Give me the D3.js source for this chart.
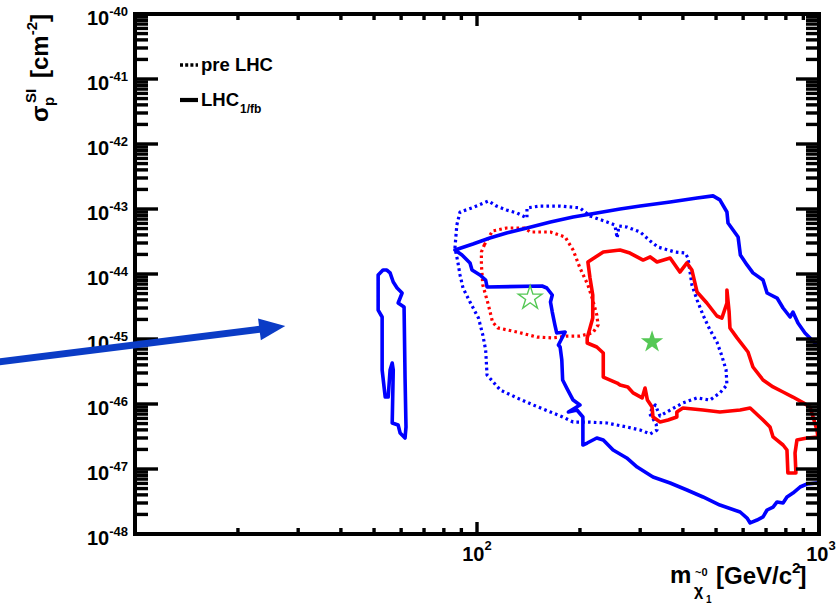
<!DOCTYPE html>
<html>
<head>
<meta charset="utf-8">
<script src="https://cdn.jsdelivr.net/npm/d3@7"></script>
<style>
  body { margin: 0; background: #fff; }
  svg { display: block; }
  text { font-family: "Liberation Sans", Arial, Helvetica, sans-serif; font-weight: bold; fill: #000; }
</style>
</head>
<body>
<svg id="chart" width="840" height="604"></svg>
<script>
// ---- axis definitions ----
const massDomain = [10, 1000];          // GeV/c^2
const sigmaDomain = [1e-48, 1e-40];     // cm^2
const xMajorTicks = [10, 100, 1000];
const xMinorTicks = [20, 30, 40, 50, 60, 70, 80, 90, 200, 300, 400, 500, 600, 700, 800, 900];
const xTickLabels = [[100, "10", "2"], [1000, "10", "3"]];
const yDecadeExponents = [-40, -41, -42, -43, -44, -45, -46, -47, -48];
const yMinorMultipliers = [2, 3, 4, 5, 6, 7, 8, 9];

// ---- contours: [neutralino mass (GeV/c^2), sigma_p^SI (cm^2)] ----
const lhcBlueMain = [
  [86.2,2.34e-44],[97.3,2.89e-44],[109,3.58e-44],[122,4.27e-44],[140,5.10e-44],[164,6.31e-44],
  [191,7.53e-44],[224,8.68e-44],[262,1.00e-43],[300,1.11e-43],[367,1.28e-43],[440,1.48e-43],
  [490,1.59e-43],[513,1.38e-43],[538,8.99e-44],[542,6.09e-44],[580,3.71e-44],[589,1.96e-44],
  [616,1.38e-44],[641,1.04e-44],[686,8.08e-45],[705,5.10e-45],[754,4.27e-45],[785,3.00e-45],
  [823,2.18e-45],[839,2.60e-45],[868,1.76e-45],[910,1.24e-45],[973,8.68e-46],[1000,7.80e-46],
  [1000,6.09e-48],[986,6.09e-48],[923,5.88e-48],[880,5.28e-48],[839,4.27e-48],[806,3.71e-48],
  [785,3.00e-48],[754,3.11e-48],[734,2.60e-48],[705,2.34e-48],[686,1.83e-48],[659,1.64e-48],
  [629,1.48e-48],[616,1.76e-48],[588,2.18e-48],[513,2.79e-48],[458,3.71e-48],[411,4.75e-48],
  [367,6.09e-48],[327,7.53e-48],[294,1.07e-47],[274,1.48e-47],[250,1.96e-47],[234,2.79e-47],
  [224,3.00e-47],[210,2.51e-47],[204,2.34e-47],[204,6.31e-47],[196,8.08e-47],[185,7.53e-47],
  [200,9.65e-47],[191,1.15e-46],[183,1.76e-46],[178,2.34e-46],[177,4.75e-46],[175,7.53e-46],
  [173,8.08e-46],[181,1.28e-45],[171,1.24e-45],[169,1.64e-45],[166,2.60e-45],[164,3.71e-45],
  [166,4.75e-45],[160,6.09e-45],[155,6.54e-45],[107,6.31e-45],[106,8.08e-45],[102,9.65e-45],
  [96.7,1.15e-44],[95.4,1.48e-44],[90.4,1.96e-44]
];
const lhcBlueIsland = [
  [53.1,1.15e-44],[51.4,9.65e-45],[51.4,2.79e-45],[52.8,2.18e-45],[52.8,3.33e-46],[53.9,1.28e-46],
  [55.0,1.28e-46],[55.7,3.33e-46],[56.5,4.27e-46],[56.9,3.33e-46],[56.5,5.10e-47],[58.8,4.75e-47],
  [59.6,3.58e-47],[61.6,3.00e-47],[62.0,4.43e-47],[61.6,2.60e-46],[61.2,3.11e-45],[58.8,3.58e-45],
  [59.6,4.27e-45],[60.4,5.10e-45],[58.4,6.09e-45],[56.9,7.53e-45],[55.7,1.04e-44],[54.5,1.15e-44]
];
const preLhcBlue = [
  [87.3,5.67e-44],[89.2,8.99e-44],[96.7,1.04e-43],[108,1.33e-43],[114,1.11e-43],[122,9.65e-44],
  [131,8.68e-44],[140,7.27e-44],[140,1.04e-43],[153,1.11e-43],[175,1.11e-43],[200,1.04e-43],
  [214,7.80e-44],[240,6.31e-44],[253,5.67e-44],[257,3.58e-44],[260,5.48e-44],[274,5.28e-44],
  [300,4.43e-44],[321,3.22e-44],[338,2.60e-44],[379,2.18e-44],[406,2.10e-44],[414,1.76e-44],
  [425,6.77e-45],[440,3.98e-45],[458,2.34e-45],[480,1.38e-45],[503,8.99e-46],[520,5.48e-46],
  [535,3.33e-46],[538,1.96e-46],[513,1.48e-46],[480,1.15e-46],[440,1.24e-46],[400,1.04e-46],
  [367,8.08e-47],[343,6.54e-47],[332,9.65e-47],[319,7.27e-47],[334,4.92e-47],[336,3.98e-47],
  [321,3.46e-47],[300,3.98e-47],[274,4.43e-47],[240,5.10e-47],[210,5.28e-47],[191,5.28e-47],
  [178,6.31e-47],[164,7.53e-47],[146,9.65e-47],[131,1.24e-46],[117,1.64e-46],[107,2.79e-46],
  [106,6.77e-46],[104,1.15e-45],[101,2.10e-45],[95.4,3.71e-45],[91.0,6.09e-45],[89.2,9.65e-45],
  [87.9,1.53e-44],[86.2,2.51e-44]
];
const preLhcRed = [
  [105,2.79e-44],[111,4.59e-44],[122,5.10e-44],[138,5.10e-44],[143,4.43e-44],[164,4.43e-44],
  [181,3.71e-44],[191,2.34e-44],[200,1.24e-44],[211,6.77e-45],[218,3.98e-45],[224,2.34e-45],
  [226,1.64e-45],[218,1.24e-45],[200,1.11e-45],[183,1.11e-45],[167,1.04e-45],[150,1.07e-45],
  [131,1.28e-45],[115,1.48e-45],[111,1.83e-45],[108,3.33e-45],[104,6.77e-45],[103,1.38e-44],
  [103,2.18e-44]
];
const lhcRed = [
  [211,1.53e-44],[234,2.18e-44],[262,2.34e-44],[280,2.10e-44],[306,1.64e-44],[321,1.83e-44],
  [336,1.53e-44],[367,1.76e-44],[392,1.07e-44],[411,1.48e-44],[425,1.15e-44],[440,5.28e-45],
  [470,3.58e-45],[503,2.26e-45],[520,2.10e-45],[538,3.58e-45],[538,5.67e-45],[546,2.60e-45],
  [549,1.48e-45],[576,1.04e-45],[620,6.31e-46],[641,3.71e-46],[686,2.34e-46],[734,1.83e-46],
  [785,1.53e-46],[839,1.28e-46],[900,1.04e-46],[941,8.99e-47],[961,6.31e-47],[986,3.98e-47],
  [993,3.11e-47],[923,3.00e-47],[862,2.79e-47],[851,1.76e-47],[856,8.68e-48],[811,8.68e-48],
  [806,1.96e-47],[785,2.34e-47],[734,3.11e-47],[719,4.43e-47],[686,5.67e-47],[629,8.68e-47],
  [588,8.08e-47],[513,7.53e-47],[458,8.08e-47],[400,8.68e-47],[384,7.53e-47],[384,6.31e-47],
  [362,5.67e-47],[343,5.28e-47],[327,6.31e-47],[325,8.99e-47],[315,1.15e-46],[310,1.76e-46],
  [304,1.24e-46],[286,1.48e-46],[276,1.83e-46],[262,1.96e-46],[257,2.10e-46],[234,2.60e-46],
  [234,6.09e-46],[224,7.53e-46],[210,8.68e-46],[210,1.04e-45],[218,2.10e-45],[218,4.75e-45],
  [214,8.68e-45]
];

// best-fit points
const bestFitPreLhc = [143, 4.27e-45];
const bestFitLhc = [325, 8.99e-46];

// annotation arrow (tail, head) in data coordinates
const arrowTail = [4.0, 4.43e-46];
const arrowHead = [27.5, 1.58e-45];

// legend entries
const legendItems = [
  { label: "pre LHC", sub: "", dash: "3,2.2" },
  { label: "LHC", sub: "1/fb", dash: null }
];

// ---- layout ----
const plot = { left: 135, right: 819, top: 14, bottom: 534 };
const svg = d3.select("#chart");

const x = d3.scaleLog().domain(massDomain).range([plot.left, plot.right]);
const y = d3.scaleLog().domain(sigmaDomain).range([plot.bottom, plot.top]);

svg.append("defs").append("clipPath").attr("id", "plotClip")
  .append("rect")
  .attr("x", plot.left).attr("y", plot.top)
  .attr("width", plot.right - plot.left).attr("height", plot.bottom - plot.top);

const line = d3.line().x(d => x(d[0])).y(d => y(d[1])).curve(d3.curveLinearClosed);

const contours = svg.append("g").attr("clip-path", "url(#plotClip)")
  .attr("fill", "none").attr("stroke-linejoin", "round");

const BLUE = "#0000ff", RED = "#ff0000", GREEN = "#55c855";

contours.append("path").datum(preLhcBlue).attr("d", line)
  .attr("stroke", BLUE).attr("stroke-width", 3.2).attr("stroke-dasharray", "2.6,3.2");
contours.append("path").datum(preLhcRed).attr("d", line)
  .attr("stroke", RED).attr("stroke-width", 3.2).attr("stroke-dasharray", "2.6,3.2");
contours.append("path").datum(lhcRed).attr("d", line)
  .attr("stroke", RED).attr("stroke-width", 3.6);
contours.append("path").datum(lhcBlueMain).attr("d", line)
  .attr("stroke", BLUE).attr("stroke-width", 3.6);
contours.append("path").datum(lhcBlueIsland).attr("d", line)
  .attr("stroke", BLUE).attr("stroke-width", 3.6);

// best-fit stars
const star = d3.symbol().type(d3.symbolStar);
svg.append("path")
  .attr("d", star.size(175)())
  .attr("transform", `translate(${x(bestFitPreLhc[0])},${y(bestFitPreLhc[1])})`)
  .attr("fill", "none").attr("stroke", GREEN).attr("stroke-width", 1.4);
svg.append("path")
  .attr("d", star.size(155)())
  .attr("transform", `translate(${x(bestFitLhc[0])},${y(bestFitLhc[1])})`)
  .attr("fill", GREEN);

// ---- frame and ticks ----
const axes = svg.append("g").attr("stroke", "#000").attr("fill", "none");
axes.append("rect")
  .attr("x", plot.left).attr("y", plot.top)
  .attr("width", plot.right - plot.left).attr("height", plot.bottom - plot.top)
  .attr("stroke-width", 4);

const yMajor = yDecadeExponents.map(e => Math.pow(10, e));
const yMinor = [];
yDecadeExponents.slice(1).forEach(e => yMinorMultipliers.forEach(m => yMinor.push(m * Math.pow(10, e))));

function hTicks(vals, len) {
  vals.forEach(v => {
    const yy = y(v);
    axes.append("line").attr("x1", plot.left).attr("x2", plot.left + len)
      .attr("y1", yy).attr("y2", yy).attr("stroke-width", 3.4);
    axes.append("line").attr("x1", plot.right).attr("x2", plot.right - len)
      .attr("y1", yy).attr("y2", yy).attr("stroke-width", 3.4);
  });
}
hTicks(yMajor, 23);
hTicks(yMinor, 13);

function vTicks(vals, len) {
  vals.forEach(v => {
    const xx = x(v);
    axes.append("line").attr("x1", xx).attr("x2", xx)
      .attr("y1", plot.bottom).attr("y2", plot.bottom - len).attr("stroke-width", 3.4);
    axes.append("line").attr("x1", xx).attr("x2", xx)
      .attr("y1", plot.top).attr("y2", plot.top + len).attr("stroke-width", 3.4);
  });
}
vTicks(xMajorTicks, 12);
vTicks(xMinorTicks, 6);

// ---- tick labels ----
const yLab = svg.append("g");
yDecadeExponents.forEach(e => {
  const t = yLab.append("text")
    .attr("x", 128).attr("y", y(Math.pow(10, e)) + 11)
    .attr("text-anchor", "end");
  t.append("tspan").attr("font-size", 20).text("10");
  t.append("tspan").attr("font-size", 13).attr("dy", -9).text(String(e));
});

xTickLabels.forEach(([v, base, exp]) => {
  const t = svg.append("text")
    .attr("x", x(v) + (v === 1000 ? 2 : 0)).attr("y", 561)
    .attr("text-anchor", "middle");
  t.append("tspan").attr("font-size", 20).text(base);
  t.append("tspan").attr("font-size", 13).attr("dy", -11).text(exp);
});

// ---- axis titles ----
const xt = svg.append("g");
xt.append("text").attr("x", 670).attr("y", 583).attr("font-size", 24).text("m");
xt.append("text").attr("x", 694).attr("y", 596).attr("font-size", 16).text("χ");
xt.append("text").attr("x", 695).attr("y", 576).attr("font-size", 11).text("~0");
xt.append("text").attr("x", 706).attr("y", 603).attr("font-size", 10).text("1");
const xUnit = xt.append("text").attr("x", 716).attr("y", 584).attr("font-size", 24);
xUnit.append("tspan").text("[GeV/c");
xUnit.append("tspan").attr("font-size", 15).attr("dy", -11).text("2");
xUnit.append("tspan").attr("dy", 11).attr("dx", -2).text("]");

const yt = svg.append("g").attr("transform", "translate(48,122) rotate(-90)");
yt.append("text").attr("x", 0).attr("y", 0).attr("font-size", 24).text("σ");
yt.append("text").attr("x", 16).attr("y", 6).attr("font-size", 15).text("p");
yt.append("text").attr("x", 19).attr("y", -12).attr("font-size", 15).text("SI");
const yUnit = yt.append("text").attr("x", 44).attr("y", 0).attr("font-size", 24);
yUnit.append("tspan").text("[cm");
yUnit.append("tspan").attr("font-size", 15).attr("dy", -11).text("-2");
yUnit.append("tspan").attr("dy", 11).text("]");

// ---- legend ----
const lg = svg.append("g");
legendItems.forEach((it, i) => {
  const cy = 65 + i * 35;
  const l = lg.append("line").attr("x1", 180).attr("x2", 198)
    .attr("y1", cy).attr("y2", cy).attr("stroke", "#000").attr("stroke-width", it.dash ? 3.5 : 4.2);
  if (it.dash) l.attr("stroke-dasharray", it.dash);
  const t = lg.append("text").attr("x", 201).attr("y", cy + 6).attr("font-size", 18.5);
  t.append("tspan").text(it.label);
  if (it.sub) t.append("tspan").attr("font-size", 12).attr("dy", 7).attr("dx", 1).text(it.sub);
});

// ---- annotation arrow ----
const ax0 = x(arrowTail[0]), ay0 = y(arrowTail[1]);
const ax1 = x(arrowHead[0]), ay1 = y(arrowHead[1]);
const ang = Math.atan2(ay1 - ay0, ax1 - ax0);
const headLen = 26, headHalf = 11;
const bx = ax1 - headLen * Math.cos(ang), by = ay1 - headLen * Math.sin(ang);
const ARROW = "#0b3cc6";
svg.append("line").attr("x1", ax0).attr("y1", ay0).attr("x2", bx + 2 * Math.cos(ang)).attr("y2", by + 2 * Math.sin(ang))
  .attr("stroke", ARROW).attr("stroke-width", 7);
svg.append("path")
  .attr("d", d3.line()([
    [ax1, ay1],
    [bx + headHalf * Math.sin(ang), by - headHalf * Math.cos(ang)],
    [bx - headHalf * Math.sin(ang), by + headHalf * Math.cos(ang)]
  ]) + "Z")
  .attr("fill", ARROW);
</script>
</body>
</html>
